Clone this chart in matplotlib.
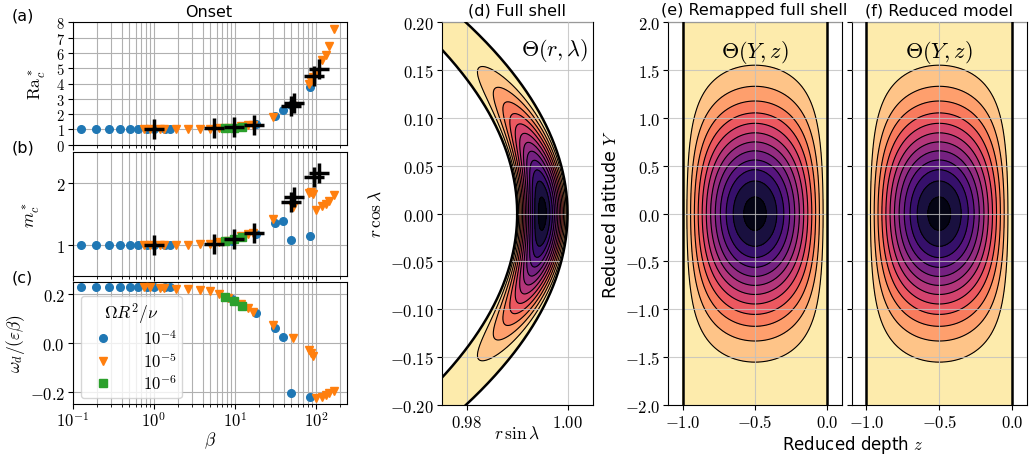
import numpy as np
import matplotlib
matplotlib.use('Agg')
import matplotlib.pyplot as plt
from matplotlib.ticker import FuncFormatter, MultipleLocator, FixedLocator, NullFormatter

plt.rcParams['mathtext.fontset'] = 'cm'
plt.rcParams['font.family'] = ['DejaVu Sans']
plt.rcParams['axes.unicode_minus'] = True

# --- onset data, Omega R^2/nu = 1e-4 (blue circles)
beta_e4 = [0.126, 0.194, 0.277, 0.382, 0.507, 0.641, 0.83, 1.0, 1.38, 1.58,
           9.3, 18.0, 31.4, 39.7, 49.3, 85.0]
ra_e4 = [1.0, 1.0, 1.0, 1.0, 1.0, 1.0, 1.0, 1.0, 1.0, 1.01,
         1.12, 1.35, 1.86, 2.25, 2.6, 3.75]
m_e4 = [0.99, 0.99, 0.99, 0.99, 0.99, 0.99, 0.99, 0.99, 0.99, 0.99,
        1.07, 1.18, 1.355, 1.39, 1.085, 1.15]
w_e4 = [0.229, 0.229, 0.229, 0.229, 0.229, 0.229, 0.229, 0.229, 0.228, 0.228,
        0.178, 0.122, 0.062, 0.024, -0.207, -0.220]

# Omega R^2/nu = 1e-5 (orange triangles)
beta_e5 = [0.75, 0.91, 1.19, 1.33, 1.90, 2.64, 3.68, 4.89, 6.35, 8.3, 12.0, 14.5,
           16.7, 29.4, 51.8, 81.3, 87.0, 93.0, 100.0, 120.0, 132.0, 146.0, 168.0]
ra_e5 = [1.0, 1.0, 1.0, 1.0, 1.0, 1.01, 1.02, 1.04, 1.07, 1.1, 1.2, 1.26,
         1.3, 1.79, 2.55, 3.95, 4.15, 4.4, 4.7, 5.55, 5.85, 6.45, 7.56]
m_e5 = [1.0, 1.0, 1.0, 1.0, 1.0, 1.0, 1.01, 1.02, 1.04, 1.07, 1.14, 1.17,
        1.2, 1.42, 1.62, 1.84, 1.85, 1.83, 1.57, 1.63, 1.67, 1.71, 1.80]
w_e5 = [0.228, 0.227, 0.226, 0.225, 0.222, 0.219, 0.215, 0.210, 0.201, 0.185, 0.160, 0.143,
        0.126, 0.072, 0.018, -0.030, -0.040, -0.053, -0.224, -0.220, -0.214, -0.207, -0.196]

# Omega R^2/nu = 1e-6 (green squares)
beta_e6 = [7.6, 9.7, 12.3]
ra_e6 = [1.08, 1.12, 1.17]
m_e6 = [1.07, 1.09, 1.13]
w_e6 = [0.188, 0.170, 0.151]

# reduced model (black crosses)
beta_red = [1.0, 5.5, 9.8, 17.0, 49.3, 54.0, 95.5, 108.0]
ra_red = [1.0, 1.07, 1.14, 1.3, 2.5, 2.7, 4.5, 4.95]
m_red = [1.0, 1.016, 1.10, 1.20, 1.70, 1.78, 2.10, 2.16]

# --- eigenmode for the contour panels
EPS = 0.01           # shell thickness
LEVELS = np.concatenate([[0.0], np.arange(0.09, 1.06, 0.08)])


def theta(Y, z):
    return np.exp(-Y ** 2) * np.sin(np.pi * (z + 1))


W, H = 1036, 456
fig = plt.figure(figsize=(W / 100, H / 100), dpi=100)


def add_ax(x0, y0, x1, y1, **kw):
    return fig.add_axes([x0 / W, 1 - y1 / H, (x1 - x0) / W, (y1 - y0) / H], **kw)


def tex(fmt):
    return FuncFormatter(lambda v, p: '$' + (fmt % v) + '$')


TS = 12
LS = 12.5
TT = 11.5  # panel titles

ax_a = add_ax(72.7, 23.3, 346.7, 145.7)
ax_b = add_ax(72.7, 153.3, 346.7, 276.7, sharex=ax_a)
ax_c = add_ax(72.7, 282.7, 346.7, 405, sharex=ax_a)

ms = 5.5
for ax, y4, y5, y6 in [(ax_a, ra_e4, ra_e5, ra_e6), (ax_b, m_e4, m_e5, m_e6),
                       (ax_c, w_e4, w_e5, w_e6)]:
    ax.plot(beta_e4, y4, 'o', color='C0', ms=ms, label='$10^{-4}$', zorder=3)
    ax.plot(beta_e5, y5, 'v', color='C1', ms=ms + 0.5, label='$10^{-5}$', zorder=3)
    ax.plot(beta_e6, y6, 's', color='C2', ms=ms + 0.5, label='$10^{-6}$', zorder=3)
    ax.set_xscale('log')
    ax.grid(True, which='both', axis='x', color='#b0b0b0', lw=0.8)
    ax.grid(True, which='major', axis='y', color='#b0b0b0', lw=0.8)
    ax.tick_params(labelsize=TS, pad=2)

ax_a.plot(beta_red, ra_red, 'k+', ms=14, mew=2.5, zorder=4)
ax_b.plot(beta_red, m_red, 'k+', ms=14, mew=2.5, zorder=4)

ax_a.set_xlim(0.1, 240)
ax_c.xaxis.set_major_formatter(FuncFormatter(lambda v, p: r'$10^{%d}$' % round(np.log10(v))))
ax_c.xaxis.set_minor_formatter(NullFormatter())
ax_a.tick_params(labelbottom=False)
ax_b.tick_params(labelbottom=False)

ax_a.set_ylim(0, 8)
ax_a.yaxis.set_major_locator(MultipleLocator(1))
ax_a.yaxis.set_major_formatter(tex('%d'))
ax_a.tick_params(axis='y', labelsize=10.5)
ax_a.set_ylabel(r'$\mathrm{Ra}_c^*$', fontsize=LS, labelpad=6)

ax_b.set_ylim(0.5, 2.5)
ax_b.yaxis.set_major_locator(FixedLocator([1, 2]))
ax_b.yaxis.set_major_formatter(tex('%d'))
ax_b.set_ylabel(r'$m_c^*$', fontsize=LS, labelpad=10)

ax_c.set_ylim(-0.25, 0.25)
ax_c.yaxis.set_major_locator(FixedLocator([-0.2, 0.0, 0.2]))
ax_c.yaxis.set_major_formatter(tex('%.1f'))
ax_c.set_ylabel(r'$\omega_d/(\varepsilon\beta)$', fontsize=LS, labelpad=2)
ax_c.set_xlabel(r'$\beta$', fontsize=LS)
ax_c.xaxis.set_label_coords(0.5, -0.21)
ax_c.legend(title=r'$\Omega R^2/\nu$', loc='lower left', bbox_to_anchor=(0.03, 0.05),
            borderaxespad=0, fontsize=12, title_fontsize=12.5, handletextpad=1.4,
            labelspacing=0.2, borderpad=0.3)

fig.text(209 / W, 1 - 12.5 / H, 'Onset', ha='center', va='center', fontsize=TT)
fig.text(12 / W, 1 - 16 / H, '(a)', ha='left', va='center', fontsize=TT)
fig.text(12 / W, 1 - 148 / H, '(b)', ha='left', va='center', fontsize=TT)
fig.text(12 / W, 1 - 278 / H, '(c)', ha='left', va='center', fontsize=TT)

# --- (d) full shell
ax_d = add_ax(441.7, 23.3, 592.7, 406)
r = np.linspace(1 - EPS, 1.0, 120)
lat = np.linspace(-0.25, 0.25, 500)
R, LAT = np.meshgrid(r, lat)
TH = theta(LAT / np.sqrt(EPS), (R - 1) / EPS)
XX = R * np.cos(LAT)
YY = R * np.sin(LAT)
ax_d.contourf(XX, YY, TH, levels=LEVELS, cmap='magma_r')
ax_d.contour(XX, YY, TH, levels=LEVELS[1:], colors='k', linewidths=0.8)
for rr in [1 - EPS, 1.0]:
    ax_d.plot(rr * np.cos(lat), rr * np.sin(lat), 'k', lw=1.8, zorder=3)
ax_d.set_xlim(0.975, 1.005)
ax_d.set_ylim(-0.2, 0.2)
ax_d.xaxis.set_major_locator(FixedLocator([0.98, 1.00]))
ax_d.xaxis.set_major_formatter(tex('%.2f'))
ax_d.yaxis.set_major_locator(MultipleLocator(0.05))
ax_d.yaxis.set_major_formatter(tex('%.2f'))
ax_d.set_axisbelow(False)
ax_d.grid(True, color='#c0c0c0', lw=0.8, alpha=0.8)
ax_d.tick_params(labelsize=TS, pad=2)
ax_d.set_xlabel(r'$r\,\sin\lambda$', fontsize=LS)
ax_d.xaxis.set_label_coords(0.5, -0.05)
ax_d.set_ylabel(r'$r\,\cos\lambda$', fontsize=LS)
ax_d.text(0.97, 0.93, r'$\Theta(r,\lambda)$', transform=ax_d.transAxes,
          ha='right', va='center', fontsize=16)
fig.text(517.5 / W, 1 - 11 / H, '(d) Full shell', ha='center', va='center', fontsize=TT)

# --- (e) remapped full shell and (f) reduced model
z = np.linspace(-1.0, 0.0, 200)
Y = np.linspace(-2.0, 2.0, 400)
ZZ, YG = np.meshgrid(z, Y)
TH2 = theta(YG, ZZ)

ax_e = add_ax(668.3, 23.3, 841.7, 406)
ax_f = add_ax(851.7, 23.3, 1026.7, 406, sharey=ax_e)
for ax in [ax_e, ax_f]:
    ax.contourf(ZZ, YG, TH2, levels=LEVELS, cmap='magma_r')
    ax.contour(ZZ, YG, TH2, levels=LEVELS[1:], colors='k', linewidths=0.8)
    ax.axvline(-1.0, color='k', lw=1.8, zorder=3)
    ax.axvline(0.0, color='k', lw=1.8, zorder=3)
    ax.set_xlim(-1.1, 0.1)
    ax.set_ylim(-2, 2)
    ax.xaxis.set_major_locator(FixedLocator([-1.0, -0.5, 0.0]))
    ax.xaxis.set_major_formatter(tex('%.1f'))
    ax.yaxis.set_major_locator(MultipleLocator(0.5))
    ax.yaxis.set_major_formatter(tex('%.1f'))
    ax.set_axisbelow(False)
    ax.grid(True, color='#c0c0c0', lw=0.8, alpha=0.8)
    ax.tick_params(labelsize=TS, pad=2)
    ax.text(-0.5, 1.69, r'$\Theta(Y,z)$', ha='center', va='center', fontsize=16)
ax_f.tick_params(labelleft=False)
ax_e.set_ylabel('Reduced latitude $Y$', fontsize=LS)
fig.text(853 / W, 1 - 445 / H, 'Reduced depth $z$', ha='center', va='center', fontsize=12)
fig.text(754 / W, 1 - 11 / H, '(e) Remapped full shell', ha='center', va='center', fontsize=TT)
fig.text(939 / W, 1 - 11 / H, '(f) Reduced model', ha='center', va='center', fontsize=TT)

fig.savefig('out.png', dpi=100)
